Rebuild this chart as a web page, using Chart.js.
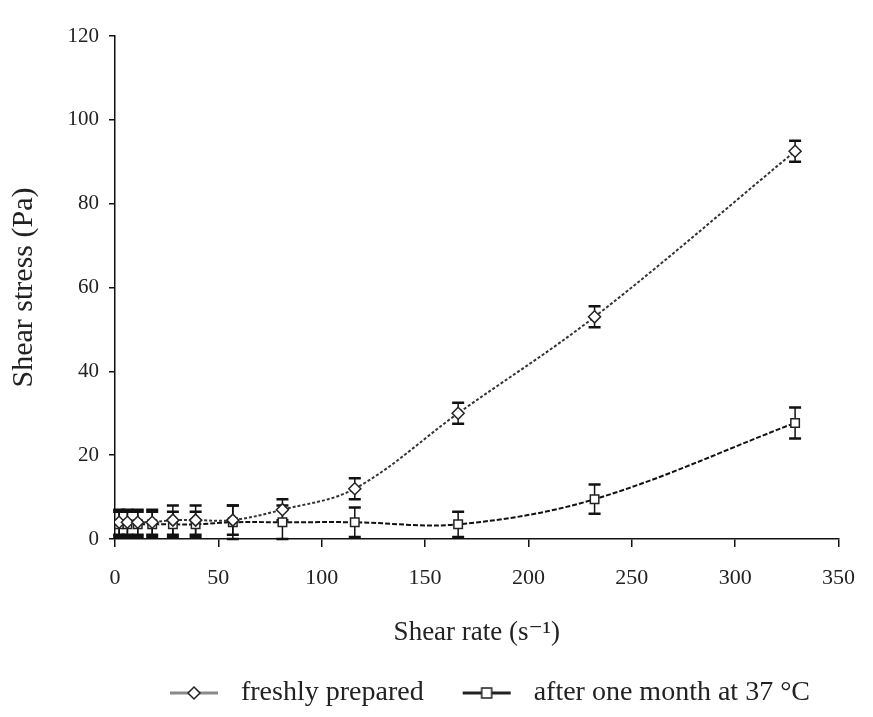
<!DOCTYPE html>
<html>
<head>
<meta charset="utf-8">
<script src="https://cdn.jsdelivr.net/npm/chart.js@4.4.1/dist/chart.umd.min.js"></script>
<style>
  html, body { margin: 0; padding: 0; background: #fff; }
  #wrap { width: 873px; height: 717px; position: relative; }
</style>
</head>
<body>
<div id="wrap"><canvas id="ch-shear"></canvas></div>
<script>
// shear rate (s^-1)
const rate     = [2, 6, 11, 18, 28, 39, 57, 81, 116, 166, 232, 329];
// freshly prepared
const fresh    = [4, 4, 4, 4, 4.5, 4.5, 4.5, 7, 12, 30, 53, 92.5];
const freshErr = [3, 3, 3, 3, 3.5, 3.5, 3.5, 2.5, 2.5, 2.5, 2.5, 2.5];
// after one month at 37 °C
const aged     = [3.5, 3.5, 3.5, 3.5, 3.5, 3.5, 4, 4, 4, 3.5, 9.5, 27.7];
const agedErr  = [3, 3, 3, 3, 3, 3, 4, 4, 3.5, 3, 3.5, 3.7];

const labels = ['freshly prepared', 'after one month at 37 °C'];

const SERIF = '"Liberation Serif", "DejaVu Serif", serif';

function legendIcon(shape, lineColor) {
  const c = document.createElement('canvas');
  c.width = 52; c.height = 16;
  const g = c.getContext('2d');
  g.strokeStyle = lineColor;
  g.lineWidth = 3;
  g.beginPath(); g.moveTo(2, 8); g.lineTo(50, 8); g.stroke();
  g.fillStyle = '#fff';
  g.strokeStyle = '#222';
  g.lineWidth = 1.5;
  g.beginPath();
  if (shape === 'diamond') {
    g.moveTo(26, 2); g.lineTo(32, 8); g.lineTo(26, 14); g.lineTo(20, 8); g.closePath();
  } else {
    g.rect(21, 3, 10, 10);
  }
  g.fill(); g.stroke();
  return c;
}
const icons = [legendIcon('diamond', '#8a8a8a'), legendIcon('square', '#222')];

const errorBars = {
  id: 'errorBars',
  beforeDatasetsDraw(chart) {
    const { ctx, scales: { x, y } } = chart;
    ctx.save();
    ctx.strokeStyle = '#111';
    [[fresh, freshErr], [aged, agedErr]].forEach(([vals, errs]) => {
      vals.forEach((v, i) => {
        const px = x.getPixelForValue(rate[i]);
        const top = y.getPixelForValue(v + errs[i]);
        const bot = y.getPixelForValue(Math.max(0, v - errs[i]));
        ctx.lineWidth = 1.5;
        ctx.beginPath();
        ctx.moveTo(px, top); ctx.lineTo(px, bot);
        ctx.stroke();
        ctx.lineWidth = 2.5;
        ctx.beginPath();
        ctx.moveTo(px - 6, top); ctx.lineTo(px + 6, top);
        ctx.moveTo(px - 6, bot); ctx.lineTo(px + 6, bot);
        ctx.stroke();
      });
    });
    ctx.restore();
  }
};

const pts = vals => vals.map((v, i) => ({ x: rate[i], y: v }));

new Chart(document.getElementById('ch-shear'), {
  type: 'line',
  data: {
    datasets: [{
      label: labels[0],
      data: pts(fresh),
      borderColor: '#333',
      borderWidth: 2,
      borderDash: [3, 2],
      tension: 0.35,
      pointStyle: 'rectRot',
      pointRadius: 6,
      pointBackgroundColor: '#fff',
      pointBorderColor: '#222',
      pointBorderWidth: 1.5,
    }, {
      label: labels[1],
      data: pts(aged),
      borderColor: '#111',
      borderWidth: 2,
      borderDash: [5, 2],
      tension: 0.35,
      pointStyle: 'rect',
      pointRadius: 6,
      pointBackgroundColor: '#fff',
      pointBorderColor: '#222',
      pointBorderWidth: 1.5,
    }],
  },
  options: {
    responsive: true,
    maintainAspectRatio: false,
    animation: false,
    layout: { padding: { top: 36, right: 33, bottom: 0, left: 0 } },
    scales: {
      x: {
        type: 'linear',
        min: 0, max: 350,
        ticks: { stepSize: 50, color: '#222', padding: 18, font: { family: SERIF, size: 22 } },
        grid: { drawOnChartArea: false, drawTicks: true, tickLength: 8, color: '#111', lineWidth: 1.5 },
        border: { display: true, color: '#111', width: 1.5 },
        title: { display: true, text: 'Shear rate (s⁻¹)', color: '#222', padding: { top: 2, bottom: 0 },
                 font: { family: SERIF, size: 27 } },
        afterFit(scale) { scale.height = 110; },
      },
      y: {
        min: 0, max: 120,
        ticks: { stepSize: 20, color: '#222', padding: 10, font: { family: SERIF, size: 21 } },
        grid: { drawOnChartArea: false, drawTicks: true, tickLength: 6, color: '#111', lineWidth: 1.5 },
        border: { display: true, color: '#111', width: 1.5 },
        title: { display: true, text: 'Shear stress (Pa)', color: '#222', padding: { top: 6, bottom: 0 },
                 font: { family: SERIF, size: 30 } },
        afterFit(scale) { scale.width = 115; },
      },
    },
    plugins: {
      legend: {
        position: 'bottom',
        align: 'end',
        labels: {
          usePointStyle: true,
          pointStyleWidth: 66,
          padding: 30,
          color: '#222',
          font: { family: SERIF, size: 28 },
          generateLabels(chart) {
            const items = Chart.defaults.plugins.legend.labels.generateLabels(chart);
            items.forEach((it, i) => { it.pointStyle = icons[i]; });
            return items;
          },
        },
      },
      tooltip: { enabled: false },
    },
  },
  plugins: [errorBars],
});
</script>
</body>
</html>
